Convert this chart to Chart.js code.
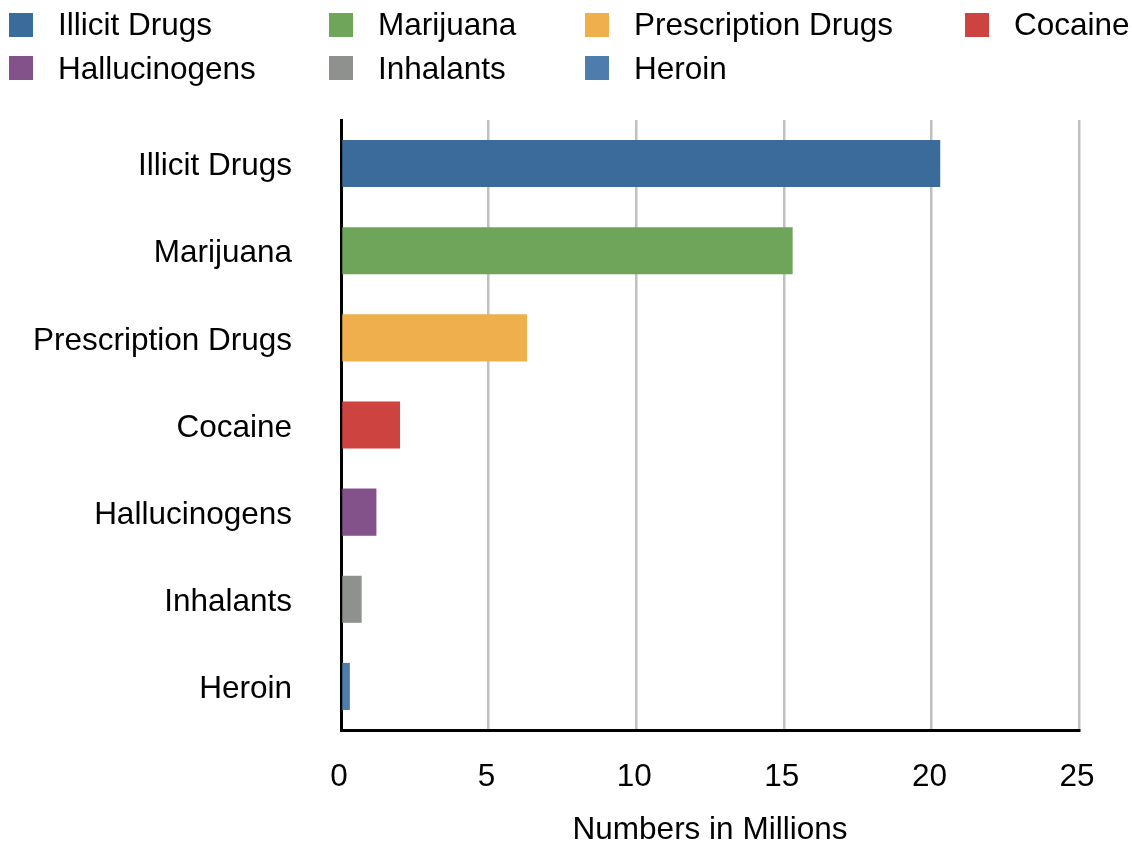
<!DOCTYPE html>
<html>
<head>
<meta charset="utf-8">
<script src="https://cdn.jsdelivr.net/npm/chart.js@4"></script>
<style>
  html, body { margin: 0; padding: 0; background: #fff; }
  #wrap { position: relative; width: 1132px; height: 844px; }
  #chart { position: absolute; left: 0; top: 0; }
  #legend { position: absolute; left: 9px; top: 3px; display: grid;
    grid-template-columns: 320px 256px 380px 170px; grid-auto-rows: 43.5px;
    font-family: "Liberation Sans", Arial, Helvetica, sans-serif; font-size: 31.5px; color: #000; }
  .item { display: flex; align-items: center; white-space: nowrap; }
  .box { width: 24px; height: 24px; margin-right: 25px; flex: none; }
</style>
</head>
<body>
<div id="wrap">
  <canvas id="chart" width="1132" height="844"></canvas>
  <div id="legend"></div>
</div>
<script>
const categories = ["Illicit Drugs", "Marijuana", "Prescription Drugs", "Cocaine", "Hallucinogens", "Inhalants", "Heroin"];
const values = [20.3, 15.3, 6.3, 2.0, 1.2, 0.7, 0.3];
const colors = ["#3b6b9b", "#6ea55a", "#eeaf4c", "#cc433f", "#83528a", "#8f918f", "#4e7cad"];
const xTicks = [0, 5, 10, 15, 20, 25];
const xTitle = "Numbers in Millions";

const FONT = '"Liberation Sans", Arial, Helvetica, sans-serif';

const datasets = categories.map((name, i) => ({
  label: name,
  data: categories.map((_, j) => (j === i ? values[i] : null)),
  backgroundColor: colors[i],
  borderWidth: 0,
  grouped: false,
  categoryPercentage: 1,
  barPercentage: 0.54
}));

// HTML legend in a grid, built from the data arrays
const legendEl = document.getElementById('legend');
categories.forEach((name, i) => {
  const item = document.createElement('div');
  item.className = 'item';
  const box = document.createElement('span');
  box.className = 'box';
  box.style.background = colors[i];
  const txt = document.createElement('span');
  txt.textContent = name;
  item.appendChild(box);
  item.appendChild(txt);
  legendEl.appendChild(item);
});

new Chart(document.getElementById('chart'), {
  type: 'bar',
  data: { labels: categories, datasets },
  options: {
    indexAxis: 'y',
    responsive: false,
    animation: false,
    devicePixelRatio: 1,
    layout: { padding: { top: 120, right: 53, bottom: 0, left: 0 } },
    plugins: { legend: { display: false }, tooltip: { enabled: false } },
    scales: {
      x: {
        min: 0, max: 25,
        afterBuildTicks: (s) => { s.ticks = xTicks.map(v => ({ value: v })); },
        afterFit: (s) => { s.height = 114; },
        grid: { color: '#c0c0c0', lineWidth: 2.5, drawTicks: false },
        border: { color: '#000', width: 3 },
        ticks: { color: '#000', font: { family: FONT, size: 31.5 }, padding: 28, maxRotation: 0, labelOffset: -2 },
        title: { display: true, text: xTitle, color: '#000', font: { family: FONT, size: 31.5, lineHeight: 0.85 }, padding: { top: 0, bottom: 0 } }
      },
      y: {
        afterFit: (s) => { s.width = 341; },
        grid: { display: false, drawTicks: false },
        border: { color: '#000', width: 3 },
        ticks: { color: '#000', font: { family: FONT, size: 31.5 }, padding: 49, labelOffset: 3 }
      }
    }
  }
});
</script>
</body>
</html>
